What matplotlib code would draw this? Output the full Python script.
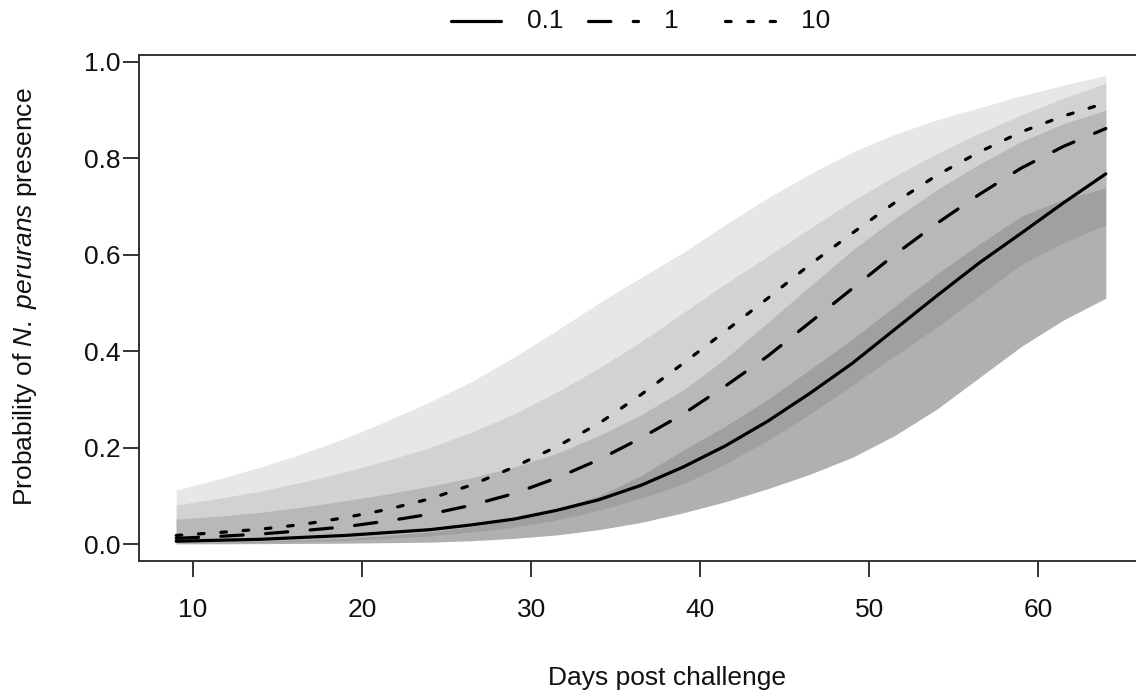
import matplotlib
matplotlib.use("Agg")
import matplotlib.pyplot as plt

plt.rcParams["font.family"] = "Liberation Sans"
plt.rcParams["font.size"] = 19
plt.rcParams["mathtext.fontset"] = "custom"
plt.rcParams["mathtext.rm"] = "Liberation Sans"
plt.rcParams["mathtext.it"] = "Liberation Sans:italic"

# days post challenge
days = [9, 11.5, 14, 16.5, 19, 21.5, 24, 26.5, 29, 31.5, 34, 36.5,
        39, 41.5, 44, 46.5, 49, 51.5, 54, 56.5, 59, 61.5, 64]

# predicted probability per dose
p_01 = [0.006, 0.008, 0.010, 0.014, 0.018, 0.024, 0.030, 0.040, 0.052, 0.070, 0.092, 0.122,
        0.160, 0.204, 0.255, 0.313, 0.375, 0.445, 0.515, 0.583, 0.645, 0.708, 0.768]
p_1 = [0.012, 0.016, 0.021, 0.028, 0.036, 0.048, 0.062, 0.081, 0.105, 0.137, 0.175, 0.220,
       0.270, 0.328, 0.390, 0.460, 0.530, 0.600, 0.665, 0.725, 0.780, 0.825, 0.862]
p_10 = [0.018, 0.024, 0.031, 0.041, 0.055, 0.072, 0.094, 0.123, 0.160, 0.202, 0.250, 0.310,
        0.375, 0.442, 0.510, 0.580, 0.645, 0.708, 0.765, 0.813, 0.855, 0.888, 0.915]

# confidence bands
lo_01 = [0.0005, 0.0007, 0.001, 0.0015, 0.002, 0.003, 0.004, 0.007, 0.012, 0.019, 0.030, 0.045,
         0.065, 0.088, 0.115, 0.145, 0.180, 0.225, 0.280, 0.345, 0.410, 0.465, 0.510]
hi_01 = [0.052, 0.058, 0.066, 0.077, 0.090, 0.104, 0.120, 0.138, 0.160, 0.188, 0.225, 0.268,
         0.320, 0.385, 0.460, 0.535, 0.610, 0.675, 0.735, 0.788, 0.835, 0.872, 0.900]
lo_1 = [0.002, 0.003, 0.004, 0.006, 0.008, 0.012, 0.017, 0.025, 0.035, 0.050, 0.070, 0.095,
        0.125, 0.167, 0.215, 0.270, 0.330, 0.390, 0.450, 0.515, 0.580, 0.625, 0.662]
hi_1 = [0.081, 0.095, 0.110, 0.129, 0.150, 0.174, 0.200, 0.233, 0.270, 0.315, 0.365, 0.420,
        0.480, 0.540, 0.597, 0.655, 0.712, 0.763, 0.810, 0.852, 0.890, 0.925, 0.956]
lo_10 = [0.002, 0.004, 0.006, 0.009, 0.012, 0.018, 0.025, 0.036, 0.052, 0.073, 0.100, 0.142,
         0.195, 0.245, 0.300, 0.362, 0.425, 0.493, 0.560, 0.622, 0.680, 0.715, 0.739]
hi_10 = [0.112, 0.135, 0.160, 0.188, 0.220, 0.256, 0.295, 0.338, 0.388, 0.443, 0.500, 0.553,
         0.605, 0.663, 0.718, 0.768, 0.813, 0.850, 0.880, 0.905, 0.930, 0.952, 0.972]

doses = ["0.1", "1", "10"]

W, H = 1136, 698
fig = plt.figure(figsize=(W / 100, H / 100), dpi=100)
ax = fig.add_axes([139 / W, (H - 561) / H, 1004 / W, 506 / H])

ax.fill_between(days, lo_01, hi_01, color="#505050", alpha=0.45, lw=0)
ax.fill_between(days, lo_1, hi_1, color="#7f7f7f", alpha=0.32, lw=0)
ax.fill_between(days, lo_10, hi_10, color="#d0d0d0", alpha=0.5, lw=0)

styles = ["-", (0, (7, 7)), (0, (1.75, 5.25))]
for p, ls in zip([p_01, p_1, p_10], styles):
    ax.plot(days, p, color="black", lw=2.3, ls=ls,
            dash_capstyle="round", solid_capstyle="round")

ax.set_xlim(6.8, 66.2)
ax.set_ylim(-0.035, 1.0145)
ax.set_xticks([10, 20, 30, 40, 50, 60])
ax.set_yticks([0, 0.2, 0.4, 0.6, 0.8, 1.0])
ax.set_yticklabels(["0.0", "0.2", "0.4", "0.6", "0.8", "1.0"])
for s in ax.spines.values():
    s.set_color("#333333")
    s.set_linewidth(1.4)
ax.tick_params(axis="both", direction="out", length=11.5, width=1.4,
               color="#333333", labelcolor="#111111")
ax.tick_params(axis="x", pad=15)
ax.tick_params(axis="y", pad=2)

fig.text(667 / W, 1 - 678 / H, "Days post challenge", ha="center", va="center",
         color="#111111")
fig.text(25 / W, 1 - 297 / H, r"Probability of $\mathit{N.\ perurans}$ presence",
         rotation=90, ha="center", va="center", color="#111111")

# legend drawn above the plot
lax = fig.add_axes([0, 0, 1, 1])
lax.set_xlim(0, W)
lax.set_ylim(H, 0)
lax.axis("off")
for i, (lab, ls) in enumerate(zip(doses, styles)):
    x0 = 451 + 137 * i
    lax.plot([x0, x0 + 50], [21, 21], color="black", lw=2.3, ls=ls,
             dash_capstyle="round", solid_capstyle="round")
    lax.text(x0 + 76, 21, lab, ha="left", va="center", color="#111111")

fig.savefig("out.png", dpi=100)
